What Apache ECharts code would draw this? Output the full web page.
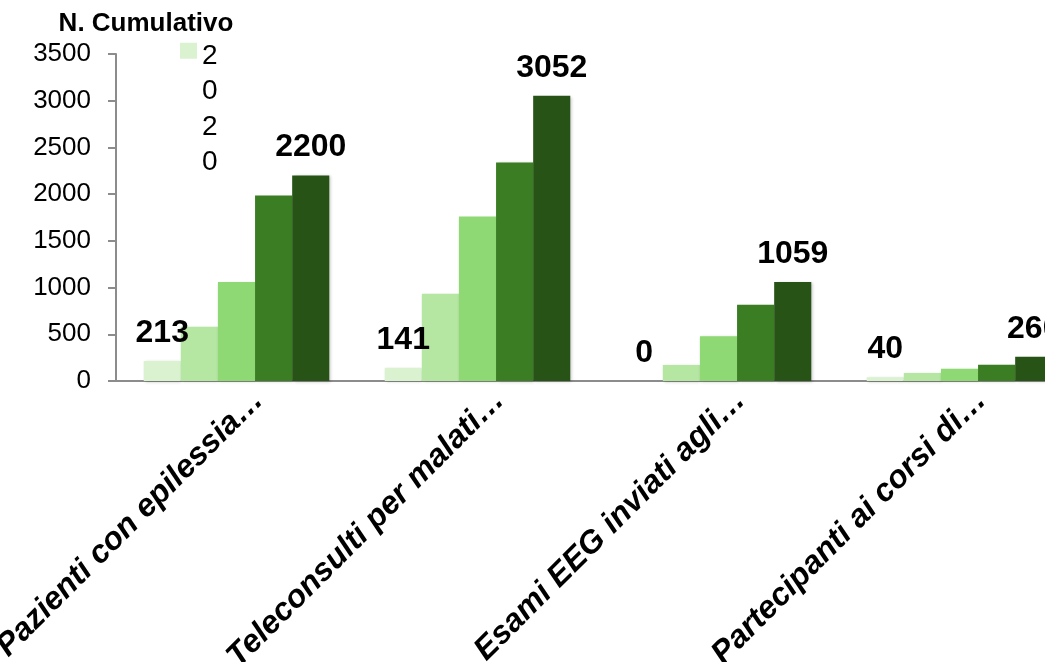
<!DOCTYPE html>
<html>
<head>
<meta charset="utf-8">
<script src="https://cdn.jsdelivr.net/npm/echarts@6/dist/echarts.min.js"></script>
<style>
  html, body { margin: 0; padding: 0; background: #ffffff; }
  #chart { width: 1045px; height: 662px; }
</style>
</head>
<body>
<div id="chart"></div>
<script>
// Categories (names shortened with an ellipsis)
const categories = [
  'Pazienti con epilessia…',
  'Teleconsulti per malati…',
  'Esami EEG inviati agli…',
  'Partecipanti ai corsi di…'
];

// Cumulative totals per year
const seriesNames = ['2020', '2021', '2022', '2023', '2024'];
const values2020 = [213, 141, 0, 40];
const values2021 = [580, 935, 170, 85];
const values2022 = [1060, 1760, 480, 130];
const values2023 = [1985, 2340, 815, 175];
const values2024 = [2200, 3052, 1059, 260];

// Value axis ticks
const yMin = 0;
const yMax = 3500;
const yStep = 500;

const palette = ['#DAF2D0', '#B5E6A2', '#8ED973', '#3B7D23', '#275317'];
const allValues = [values2020, values2021, values2022, values2023, values2024];
const labelled = [true, false, false, false, true];

const FONT = '"Liberation Sans", Arial, Helvetica, sans-serif';

// Legend swatch sits beside the first line of the stacked legend text
const legendIcon = 'path://M0,0 L0,0 M0,4.2 L17,4.2 L17,20.2 L0,20.2 Z M0,142 L0,142';

const chart = echarts.init(document.getElementById('chart'), null, { renderer: 'canvas' });

const series = allValues.map((vals, i) => ({
  name: seriesNames[i],
  type: 'bar',
  data: vals,
  barGap: '0%',
  barCategoryGap: '23%',
  itemStyle: {
    color: palette[i],
    shadowColor: 'rgba(0,0,0,0.22)',
    shadowBlur: 3,
    shadowOffsetX: 1.5,
    shadowOffsetY: 1
  },
  label: {
    show: labelled[i],
    position: 'top',
    distance: 12,
    color: '#000',
    fontFamily: FONT,
    fontWeight: 'bold',
    fontSize: 32
  },
  emphasis: { disabled: true },
  animation: false
}));

chart.setOption({
  animation: false,
  textStyle: { fontFamily: FONT },
  grid: {
    left: 116, top: 54, width: 964, height: 327,
    outerBoundsMode: 'none', containLabel: false
  },
  legend: {
    data: ['2020'],
    left: 180,
    top: 38.5,
    padding: 0,
    itemWidth: 17,
    itemHeight: 142,
    icon: legendIcon,
    itemStyle: { shadowBlur: 0, shadowColor: 'transparent', shadowOffsetX: 0, shadowOffsetY: 0 },
    selectedMode: false,
    formatter: name => name.split('').join('\n'),
    textStyle: {
      color: '#000',
      fontFamily: FONT,
      fontSize: 28,
      lineHeight: 35.5
    }
  },
  xAxis: {
    type: 'category',
    data: categories,
    axisLine: { lineStyle: { color: '#8C8C8C', width: 2 } },
    axisTick: { show: false },
    axisLabel: {
      interval: 0,
      rotate: 45,
      margin: 36,
      padding: [0, -31, 0, 0],
      color: '#000',
      fontFamily: FONT,
      fontSize: 32,
      fontWeight: 'bold',
      fontStyle: 'italic'
    }
  },
  yAxis: {
    type: 'value',
    min: yMin,
    max: yMax,
    interval: yStep,
    name: 'N. Cumulativo',
    nameLocation: 'end',
    nameGap: 17,
    nameTextStyle: {
      color: '#000',
      fontFamily: FONT,
      fontSize: 26,
      fontWeight: 'bold',
      align: 'center',
      padding: [0, 0, 0, 60]
    },
    axisLine: { show: true, lineStyle: { color: '#8C8C8C', width: 2 } },
    axisTick: { show: true, length: 8, lineStyle: { color: '#8C8C8C', width: 2 } },
    splitLine: { show: false },
    axisLabel: {
      margin: 25,
      color: '#000',
      fontFamily: FONT,
      fontSize: 26,
      formatter: v => String(v)
    }
  },
  series: series
});
</script>
</body>
</html>
